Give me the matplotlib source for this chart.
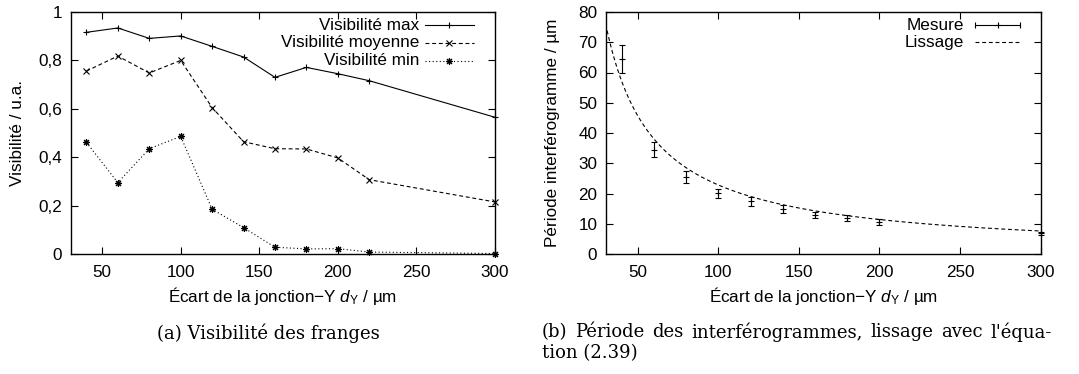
import numpy as np
import matplotlib
matplotlib.use("Agg")
import matplotlib.pyplot as plt

plt.rcParams['font.family'] = ['Liberation Sans', 'DejaVu Sans']
plt.rcParams['mathtext.fontset'] = 'custom'
plt.rcParams['mathtext.rm'] = 'Liberation Sans'
plt.rcParams['mathtext.it'] = 'Liberation Sans:italic'

# ---- data: panel (a) ----
x_vis = [40, 60, 80, 100, 120, 140, 160, 180, 200, 220, 300]
vis_max = [0.916, 0.934, 0.891, 0.901, 0.858, 0.814, 0.730, 0.771, 0.745, 0.716, 0.565]
vis_moy = [0.756, 0.818, 0.748, 0.800, 0.605, 0.464, 0.435, 0.434, 0.397, 0.307, 0.215]
vis_min = [0.461, 0.295, 0.435, 0.486, 0.185, 0.109, 0.028, 0.021, 0.022, 0.008, 0.002]
vis_labels = ["Visibilité max", "Visibilité moyenne", "Visibilité min"]
vis_yticks = [0, 0.2, 0.4, 0.6, 0.8, 1.0]
vis_yticklabels = ["0", "0,2", "0,4", "0,6", "0,8", "1"]

# ---- data: panel (b) ----
x_per = [40, 60, 80, 100, 120, 140, 160, 180, 200, 300]
period = [64.5, 34.5, 25.5, 20.1, 17.5, 14.9, 12.8, 11.8, 10.6, 6.8]
period_err = [4.5, 2.4, 2.0, 1.5, 1.5, 1.3, 1.0, 1.0, 1.0, 0.5]
fit_coef = 2280.0  # Lissage: P = A / d_Y
per_labels = ["Mesure", "Lissage"]
per_yticks = [0, 10, 20, 30, 40, 50, 60, 70, 80]

x_ticks = [50, 100, 150, 200, 250, 300]
xlabel = "Écart de la jonction\u2212Y $d_{\\rm Y}$ / µm"

FS = 12.3
LW = 0.8
dash = (0, (3.5, 2.5))
dot = (0, (1, 2.2))

fig = plt.figure(figsize=(10.79, 3.74), dpi=100)
H = 374.0
W = 1079.0
bot = (H - 254) / H
top = (H - 12) / H
axa = fig.add_axes([70.7 / W, bot, (495 - 70.7) / W, top - bot])
axb = fig.add_axes([605.7 / W, bot, (1040.5 - 605.7) / W, top - bot])

for ax in (axa, axb):
    for s in ax.spines.values():
        s.set_linewidth(1.0)
    ax.tick_params(direction='in', top=True, right=True, length=5, width=0.8,
                   labelsize=FS)
    ax.tick_params(axis='x', pad=8)
    ax.tick_params(axis='y', pad=6)
    ax.set_xlim(30, 300)
    ax.set_xticks(x_ticks)
    ax.set_xlabel(xlabel, fontsize=FS)
    ax.xaxis.set_label_coords(0.5, -0.128)

# panel (a)
styles = [
    dict(ls='-', marker='+', ms=5),
    dict(ls=dash, marker='x', ms=4),
    dict(ls=dot, marker=(8, 2, 0), ms=5),
]
series = [vis_max, vis_moy, vis_min]
for ys, st in zip(series, styles):
    axa.plot(x_vis, ys, color='black', lw=LW, linestyle=st['ls'], marker=st['marker'],
             ms=st['ms'], mew=LW, clip_on=False)
axa.set_ylim(0, 1)
axa.set_yticks(vis_yticks)
axa.set_yticklabels(vis_yticklabels)
axa.set_ylabel("Visibilité / u.a.", fontsize=FS)
axa.yaxis.set_label_coords(-0.108, 0.5)

leg_y = [0.946, 0.873, 0.798]
for lab, st, yy in zip(vis_labels, styles, leg_y):
    axa.text(0.821, yy, lab, ha='right', va='center', fontsize=FS, transform=axa.transAxes)
    axa.plot([0.834, 0.950], [yy, yy], color='black', lw=LW, linestyle=st['ls'],
             transform=axa.transAxes)
    axa.plot([0.892], [yy], color='black', marker=st['marker'], ms=st['ms'], mew=LW,
             transform=axa.transAxes)

# panel (b)
xf = np.linspace(30, 300, 400)
axb.plot(xf, fit_coef / xf, color='black', lw=LW, linestyle=dash)
axb.errorbar(x_per, period, yerr=period_err, fmt='+', color='black', ms=4, mew=LW,
             elinewidth=LW, capsize=2, capthick=LW, clip_on=False)
axb.set_ylim(0, 80)
axb.set_yticks(per_yticks)
axb.set_ylabel("Période interférogramme / µm", fontsize=FS)
axb.yaxis.set_label_coords(-0.105, 0.5)

leg_y2 = [0.946, 0.874]
axb.text(0.824, leg_y2[0], per_labels[0], ha='right', va='center', fontsize=FS,
         transform=axb.transAxes)
axb.plot([0.849, 0.954], [leg_y2[0]] * 2, color='black', lw=LW, transform=axb.transAxes)
axb.plot([0.849, 0.954], [leg_y2[0]] * 2, color='black', lw=0, marker='|', ms=4, mew=LW,
         transform=axb.transAxes)
axb.plot([0.9015], [leg_y2[0]], color='black', marker='+', ms=4, mew=LW,
         transform=axb.transAxes)
axb.text(0.824, leg_y2[1], per_labels[1], ha='right', va='center', fontsize=FS,
         transform=axb.transAxes)
axb.plot([0.849, 0.954], [leg_y2[1]] * 2, color='black', lw=LW, linestyle=dash,
         transform=axb.transAxes)

# captions
cap_font = dict(family='DejaVu Serif', fontsize=13)
fig.text(268 / W, (H - 333) / H, "(a) Visibilité des franges", ha='center', va='center',
         **cap_font)
line1 = "(b) Période des interférogrammes, lissage avec l'équa-"
words = line1.split(" ")
x0, x1 = 542 / W, 1052 / W
fig.canvas.draw()
r = fig.canvas.get_renderer()
tws = []
tmp = []
for w in words:
    t = fig.text(0, 0, w, **cap_font)
    tws.append(t.get_window_extent(r).width / W)
    tmp.append(t)
for t in tmp:
    t.remove()
gap = (x1 - x0 - sum(tws)) / (len(words) - 1)
xx = x0
for w, tw in zip(words, tws):
    fig.text(xx, (H - 332) / H, w, ha='left', va='center', **cap_font)
    xx += tw + gap
fig.text(x0, (H - 353) / H, "tion (2.39)", ha='left', va='center', **cap_font)

fig.savefig("out.png", dpi=100)
